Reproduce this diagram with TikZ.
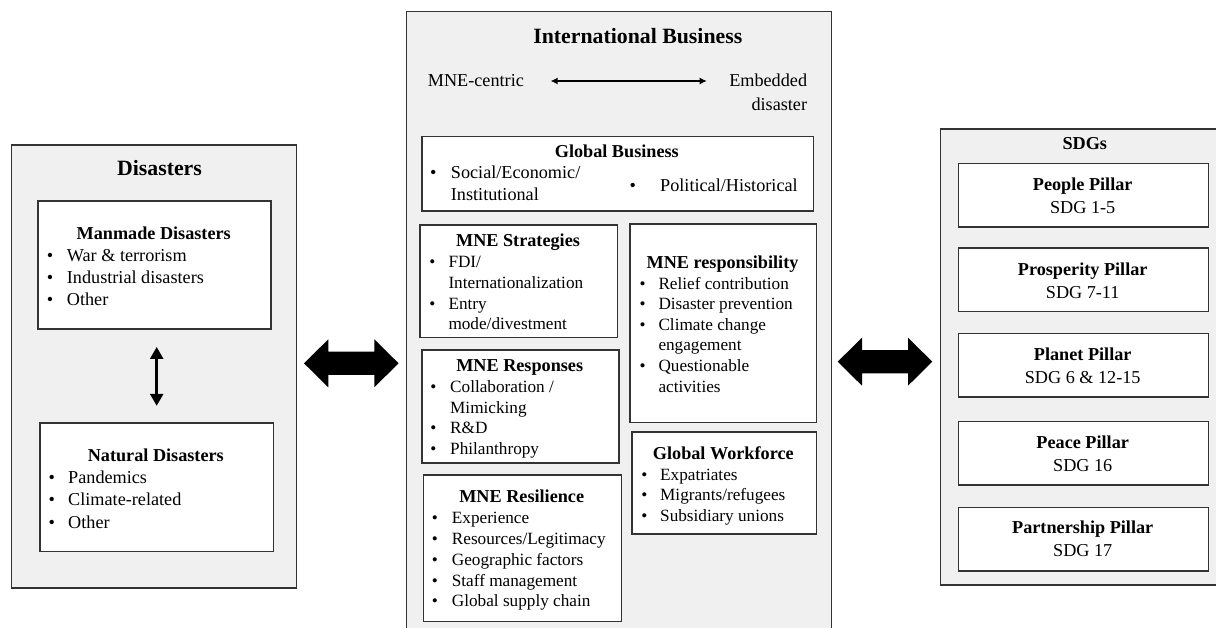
\documentclass[tikz,border=0pt]{standalone}
\usepackage{fontspec}
\setmainfont{Liberation Serif}
\usetikzlibrary{arrows.meta}
\definecolor{panelgray}{HTML}{F0F0F0}
\definecolor{edgecol}{HTML}{333333}
\newcommand{\fbody}{\fontsize{18.2}{22}\selectfont}
\newcommand{\fsmall}{\fontsize{17.2}{20.7}\selectfont}
\newcommand{\fhead}{\fontsize{18.2}{22}\selectfont\bfseries}
\newcommand{\ftitle}{\fontsize{21.8}{26}\selectfont\bfseries}
\newcommand{\blockarrow}[2]{\fill[black] (#1,#2) -- ++(24.3,-24) -- ++(0,12.4) -- ++(46,0) -- ++(0,-12.4) -- ++(24.3,24) -- ++(-24.3,24) -- ++(0,-12.4) -- ++(-46,0) -- ++(0,12.4) -- cycle;}
\begin{document}
\begin{tikzpicture}[x=1pt,y=-1pt,
  panel/.style={draw=edgecol,line width=1.4pt,fill=panelgray,anchor=north west,inner sep=0pt},
  ibox/.style={draw=edgecol,line width=1.7pt,fill=white,anchor=north west,inner sep=0pt},
  txt/.style={anchor=base west,inner sep=0pt},
  ctr/.style={anchor=base,inner sep=0pt},
  bul/.style={anchor=base,inner sep=0pt},
  varr/.style={line width=2.6pt,{Triangle[width=13pt,length=12pt]}-{Triangle[width=13pt,length=12pt]}},
  harr/.style={line width=1.1pt,{Latex[width=7pt,length=7pt]}-{Latex[width=7pt,length=7pt]}}]
\useasboundingbox (0,0) rectangle (1216,628);
\fill[white] (0,0) rectangle (1216,628);
\clip (0,0) rectangle (1216,628);

% ---------------- Disasters panel ----------------
\node[panel,minimum width=285pt,minimum height=443pt] (dis) at (11,144.3) {};
\node[ctr,font=\ftitle] (tdis) at (159.5,175.6) {Disasters};
\node[ibox,minimum width=232.7pt,minimum height=128pt] (mm) at (37.3,200.3) {};
\node[ctr,font=\fhead] (mmh) at (153.7,239.3) {Manmade Disasters};
\begin{scope}[font=\fbody]
\node[bul] (mmb1) at (50,261.7) {•};   \node[txt] (mm1) at (66.7,261.7) {War \& terrorism};
\node[bul] (mmb2) at (50,283.7) {•};   \node[txt] (mm2) at (66.7,283.7) {Industrial disasters};
\node[bul] (mmb3) at (50,306) {•};     \node[txt] (mm3) at (66.7,306) {Other};
\end{scope}
\node[ibox,minimum width=233.7pt,minimum height=128.4pt] (nat) at (39,422.3) {};
\node[ctr,font=\fhead] (nath) at (155.8,461) {Natural Disasters};
\begin{scope}[font=\fbody]
\node[bul] (natb1) at (51.7,483.7) {•};  \node[txt] (nat1) at (68,483.7) {Pandemics};
\node[bul] (natb2) at (51.7,505.7) {•};  \node[txt] (nat2) at (68,505.7) {Climate-related};
\node[bul] (natb3) at (51.7,528.3) {•};  \node[txt] (nat3) at (68,528.3) {Other};
\end{scope}
\draw[varr,shorten <=17pt,shorten >=16.5pt] (mm.south -| nat.north) -- (nat.north);

% ---------------- block arrows ----------------
\blockarrow{304}{363.3}
\blockarrow{837.7}{361.7}

% ---------------- International Business panel ----------------
\node[panel,minimum width=425.3pt,minimum height=640pt] (ib) at (405.7,10.7) {};
\node[ctr,font=\ftitle] (tib) at (637.8,43.2) {International Business};
\node[txt,font=\fbody] (mne) at (427.7,87) {MNE-centric};
\node[anchor=base east,inner sep=0pt,font=\fbody] (emb) at (807.3,87) {Embedded};
\node[anchor=base east,inner sep=0pt,font=\fbody] (emb2) at (807.3,110.3) {disaster};
\coordinate (al) at (550.7,81);
\coordinate (ar) at (706.7,81);
\draw[harr] (al) -- (ar);

% Global Business
\node[ibox,minimum width=391.7pt,minimum height=74.3pt] (gb) at (421,135.7) {};
\node[ctr,font=\fhead] (gbh) at (616.8,157.7) {Global Business};
\begin{scope}[font=\fbody]
\node[bul] (gbb1) at (433.3,178.3) {•}; \node[txt] (gb1) at (450.7,178.3) {Social/Economic/};
\node[txt] (gb1b) at (450.7,200.3) {Institutional};
\node[bul] (gbb2) at (632.7,191.7) {•}; \node[txt] (gb2) at (660,191.7) {Political/Historical};
\end{scope}

% MNE Strategies
\node[ibox,minimum width=197.4pt,minimum height=112.4pt] (str) at (419.3,224.3) {};
\node[ctr,font=\fhead] (strh) at (518,247) {MNE Strategies};
\begin{scope}[font=\fsmall]
\node[bul] (strb1) at (432.3,267.7) {•}; \node[txt] (str1) at (448.3,267.7) {FDI/};
\node[txt] (str1b) at (448.3,288.7) {Internationalization};
\node[bul] (strb2) at (432.3,309.3) {•}; \node[txt] (str2) at (448.3,309.3) {Entry};
\node[txt] (str2b) at (448.3,330) {mode/divestment};
\end{scope}

% MNE responsibility
\node[ibox,minimum width=186.4pt,minimum height=198.4pt] (resp) at (629.3,223.3) {};
\node[ctr,font=\fhead] (resph) at (722.5,268.7) {MNE responsibility};
\begin{scope}[font=\fsmall]
\node[bul] (respb1) at (642.7,289.3) {•}; \node[txt] (resp1) at (658.3,289.3) {Relief contribution};
\node[bul] (respb2) at (642.7,310) {•};   \node[txt] (resp2) at (658.3,310) {Disaster prevention};
\node[bul] (respb3) at (642.7,331) {•};   \node[txt] (resp3) at (658.3,331) {Climate change};
\node[txt] (resp3b) at (658.3,351) {engagement};
\node[bul] (respb4) at (642.7,372) {•};   \node[txt] (resp4) at (658.3,372) {Questionable};
\node[txt] (resp4b) at (658.3,392.7) {activities};
\end{scope}

% MNE Responses
\node[ibox,minimum width=197.3pt,minimum height=113.3pt] (rsp) at (421,349) {};
\node[ctr,font=\fhead] (rsph) at (519.7,372) {MNE Responses};
\begin{scope}[font=\fsmall]
\node[bul] (rspb1) at (433.3,392.7) {•}; \node[txt] (rsp1) at (450,392.7) {Collaboration /};
\node[txt] (rsp1b) at (450,413.3) {Mimicking};
\node[bul] (rspb2) at (433.3,433.7) {•}; \node[txt] (rsp2) at (450,433.7) {R\&D};
\node[bul] (rspb3) at (433.3,454.3) {•}; \node[txt] (rsp3) at (450,454.3) {Philanthropy};
\end{scope}

% MNE Resilience
\node[ibox,minimum width=198pt,minimum height=146.4pt] (res) at (422.7,474.3) {};
\node[ctr,font=\fhead] (resh) at (521.7,502.7) {MNE Resilience};
\begin{scope}[font=\fsmall]
\node[bul] (resb1) at (435,523.7) {•}; \node[txt] (res1) at (451.7,523.7) {Experience};
\node[bul] (resb2) at (435,544.3) {•}; \node[txt] (res2) at (451.7,544.3) {Resources/Legitimacy};
\node[bul] (resb3) at (435,565.3) {•}; \node[txt] (res3) at (451.7,565.3) {Geographic factors};
\node[bul] (resb4) at (435,586) {•};   \node[txt] (res4) at (451.7,586) {Staff management};
\node[bul] (resb5) at (435,606.7) {•}; \node[txt] (res5) at (451.7,606.7) {Global supply chain};
\end{scope}

% Global Workforce
\node[ibox,minimum width=184.7pt,minimum height=102.3pt] (wf) at (631,431) {};
\node[ctr,font=\fhead] (wfh) at (723.3,459.3) {Global Workforce};
\begin{scope}[font=\fsmall]
\node[bul] (wfb1) at (644.3,480) {•};   \node[txt] (wf1) at (660,480) {Expatriates};
\node[bul] (wfb2) at (644.3,500.3) {•}; \node[txt] (wf2) at (660,500.3) {Migrants/refugees};
\node[bul] (wfb3) at (644.3,521) {•};   \node[txt] (wf3) at (660,521) {Subsidiary unions};
\end{scope}

% ---------------- SDGs panel ----------------
\node[panel,minimum width=290pt,minimum height=456pt] (sdg) at (940,128.3) {};
\node[ctr,font=\fhead] (tsdg) at (1084.8,149.3) {SDGs};
\node[ibox,minimum width=250pt,minimum height=63.3pt] (p1) at (957.7,162.7) {};
\node[ctr,font=\fhead] (p1h) at (1082.7,190.3) {People Pillar};
\node[ctr,font=\fbody] (p1s) at (1082.7,213.3) {SDG 1-5};
\node[ibox,minimum width=250pt,minimum height=63.3pt] (p2) at (957.7,247.3) {};
\node[ctr,font=\fhead] (p2h) at (1082.7,276) {Prosperity Pillar};
\node[ctr,font=\fbody] (p2s) at (1082.7,298.7) {SDG 7-11};
\node[ibox,minimum width=250pt,minimum height=63.3pt] (p3) at (957.7,332.7) {};
\node[ctr,font=\fhead] (p3h) at (1082.7,361) {Planet Pillar};
\node[ctr,font=\fbody] (p3s) at (1082.7,383.7) {SDG 6 \& 12-15};
\node[ibox,minimum width=250pt,minimum height=63.3pt] (p4) at (957.7,420.7) {};
\node[ctr,font=\fhead] (p4h) at (1082.7,448.7) {Peace Pillar};
\node[ctr,font=\fbody] (p4s) at (1082.7,471.7) {SDG 16};
\node[ibox,minimum width=250pt,minimum height=63.3pt] (p5) at (957.7,506.7) {};
\node[ctr,font=\fhead] (p5h) at (1082.7,533.7) {Partnership Pillar};
\node[ctr,font=\fbody] (p5s) at (1082.7,556) {SDG 17};
\end{tikzpicture}
\end{document}
